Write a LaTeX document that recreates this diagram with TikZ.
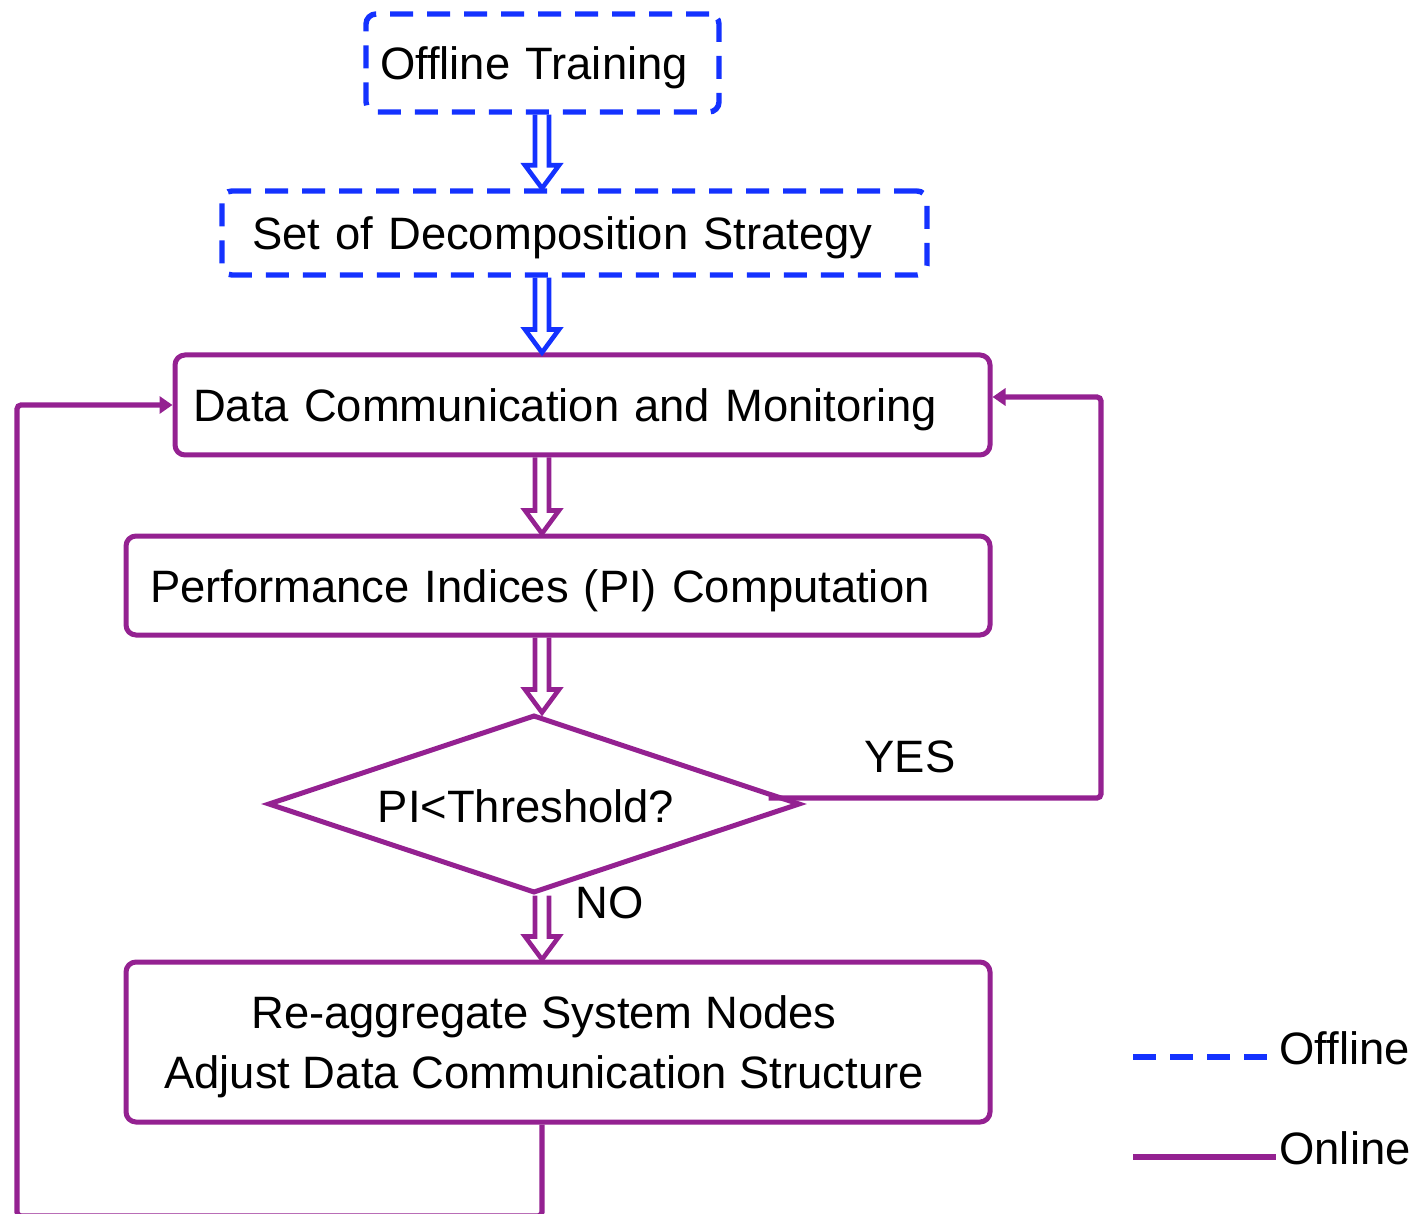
\documentclass[tikz,border=0pt]{standalone}
\usepackage{fontspec}
\setmainfont{Liberation Sans}
\usetikzlibrary{shapes.geometric,arrows.meta,calc}
\definecolor{offblue}{RGB}{20,50,255}
\definecolor{onpurple}{RGB}{148,33,145}
\begin{document}
\begin{tikzpicture}[x=0.5pt,y=-0.5pt,
  font=\fontsize{22.7}{30}\selectfont,
  box/.style={draw, rounded corners=5pt, line width=2.5pt, align=left, inner ysep=0pt,
      text height=19pt, text depth=2pt},
  offbox/.style={box, draw=offblue, line width=2.7pt, dash pattern=on 11.5pt off 7pt},
  onbox/.style={box, draw=onpurple},
  dbl/.style={line width=2.3pt, to path={
      ($(\tikztostart)+(-7,0)$) -- ($(\tikztotarget)+(-7,-23)$) --
      ($(\tikztotarget)+(-17,-23)$) -- (\tikztotarget) --
      ($(\tikztotarget)+(17,-23)$) -- ($(\tikztotarget)+(7,-23)$) --
      ($(\tikztostart)+(7,0)$)}},
  loopline/.style={draw=onpurple, line width=2.6pt, rounded corners=2pt,
      -{Triangle[length=6.5pt,width=8.5pt]}},
  lbl/.style={inner sep=0pt}
]
\useasboundingbox (0,0) rectangle (1426,1214);

% arrow spine and loop rails
\coordinate (sp) at (542,0);
\coordinate (yr) at (1101,397);
\coordinate (bl) at (17,1216);

% offline stages
\node[offbox, minimum width=176.5pt, minimum height=49pt, text width=162.5pt, inner xsep=7pt]
  (off) at (542.5,63) {Offline Training};
\node[offbox, minimum width=352.5pt, minimum height=42pt, text width=322.5pt, inner xsep=15pt]
  (set) at (574.5,233) {Set of Decomposition Strategy};

% online stages
\node[onbox, minimum width=407.5pt, minimum height=50pt, text width=389.5pt, inner xsep=9pt]
  (data) at (582.5,405) {Data Communication and Monitoring};
\node[onbox, minimum width=432pt, minimum height=49.5pt, text width=408pt, inner xsep=12pt]
  (pi) at (558,585.5) {Performance Indices (PI) Computation};
\node[diamond, aspect=3, draw=onpurple, line width=2.5pt, minimum width=266pt, minimum height=89pt, inner sep=0pt]
  (d) at (534,804) {};
\node[lbl] (dt) at (526,806) {PI<Threshold?};
\node[onbox, minimum width=432pt, minimum height=80pt, text height=, text depth=] (re) at (558,1042) {};
\node[lbl, align=center] (ret) at ($(re.center)+(-14,5)$)
  {Re-aggregate System Nodes\\Adjust Data Communication Structure};

% main flow
\draw[dbl, draw=offblue] (off.south -| sp) to (set.north -| sp);
\draw[dbl, draw=offblue] (set.south -| sp) to (data.north -| sp);
\draw[dbl, draw=onpurple] (data.south -| sp) to (pi.north -| sp);
\draw[dbl, draw=onpurple] (pi.south -| sp) to (d.north -| sp);
\draw[dbl, draw=onpurple] (d.south -| sp) to (re.north -| sp);

% feedback loops
\draw[loopline] ($(d.east)+(-34,-6)$) -| (yr) -- ([yshift=4pt]data.east);
\draw[loopline] (re.south -| sp) -- (sp |- bl) -- (bl) |- (data.west);

\node[lbl] (yes) at (910,757) {YES};
\node[lbl] (no) at (610,903) {NO};

% legend
\draw[draw=offblue, line width=2.7pt, dash pattern=on 11.5pt off 7pt] (1133,1057) -- (1267,1057);
\node[lbl, anchor=west] (lgoff) at (1279,1048) {Offline};
\draw[draw=onpurple, line width=2.6pt] (1133,1157) -- (1276,1157);
\node[lbl, anchor=west] (lgon) at (1279,1148) {Online};
\end{tikzpicture}
\end{document}
